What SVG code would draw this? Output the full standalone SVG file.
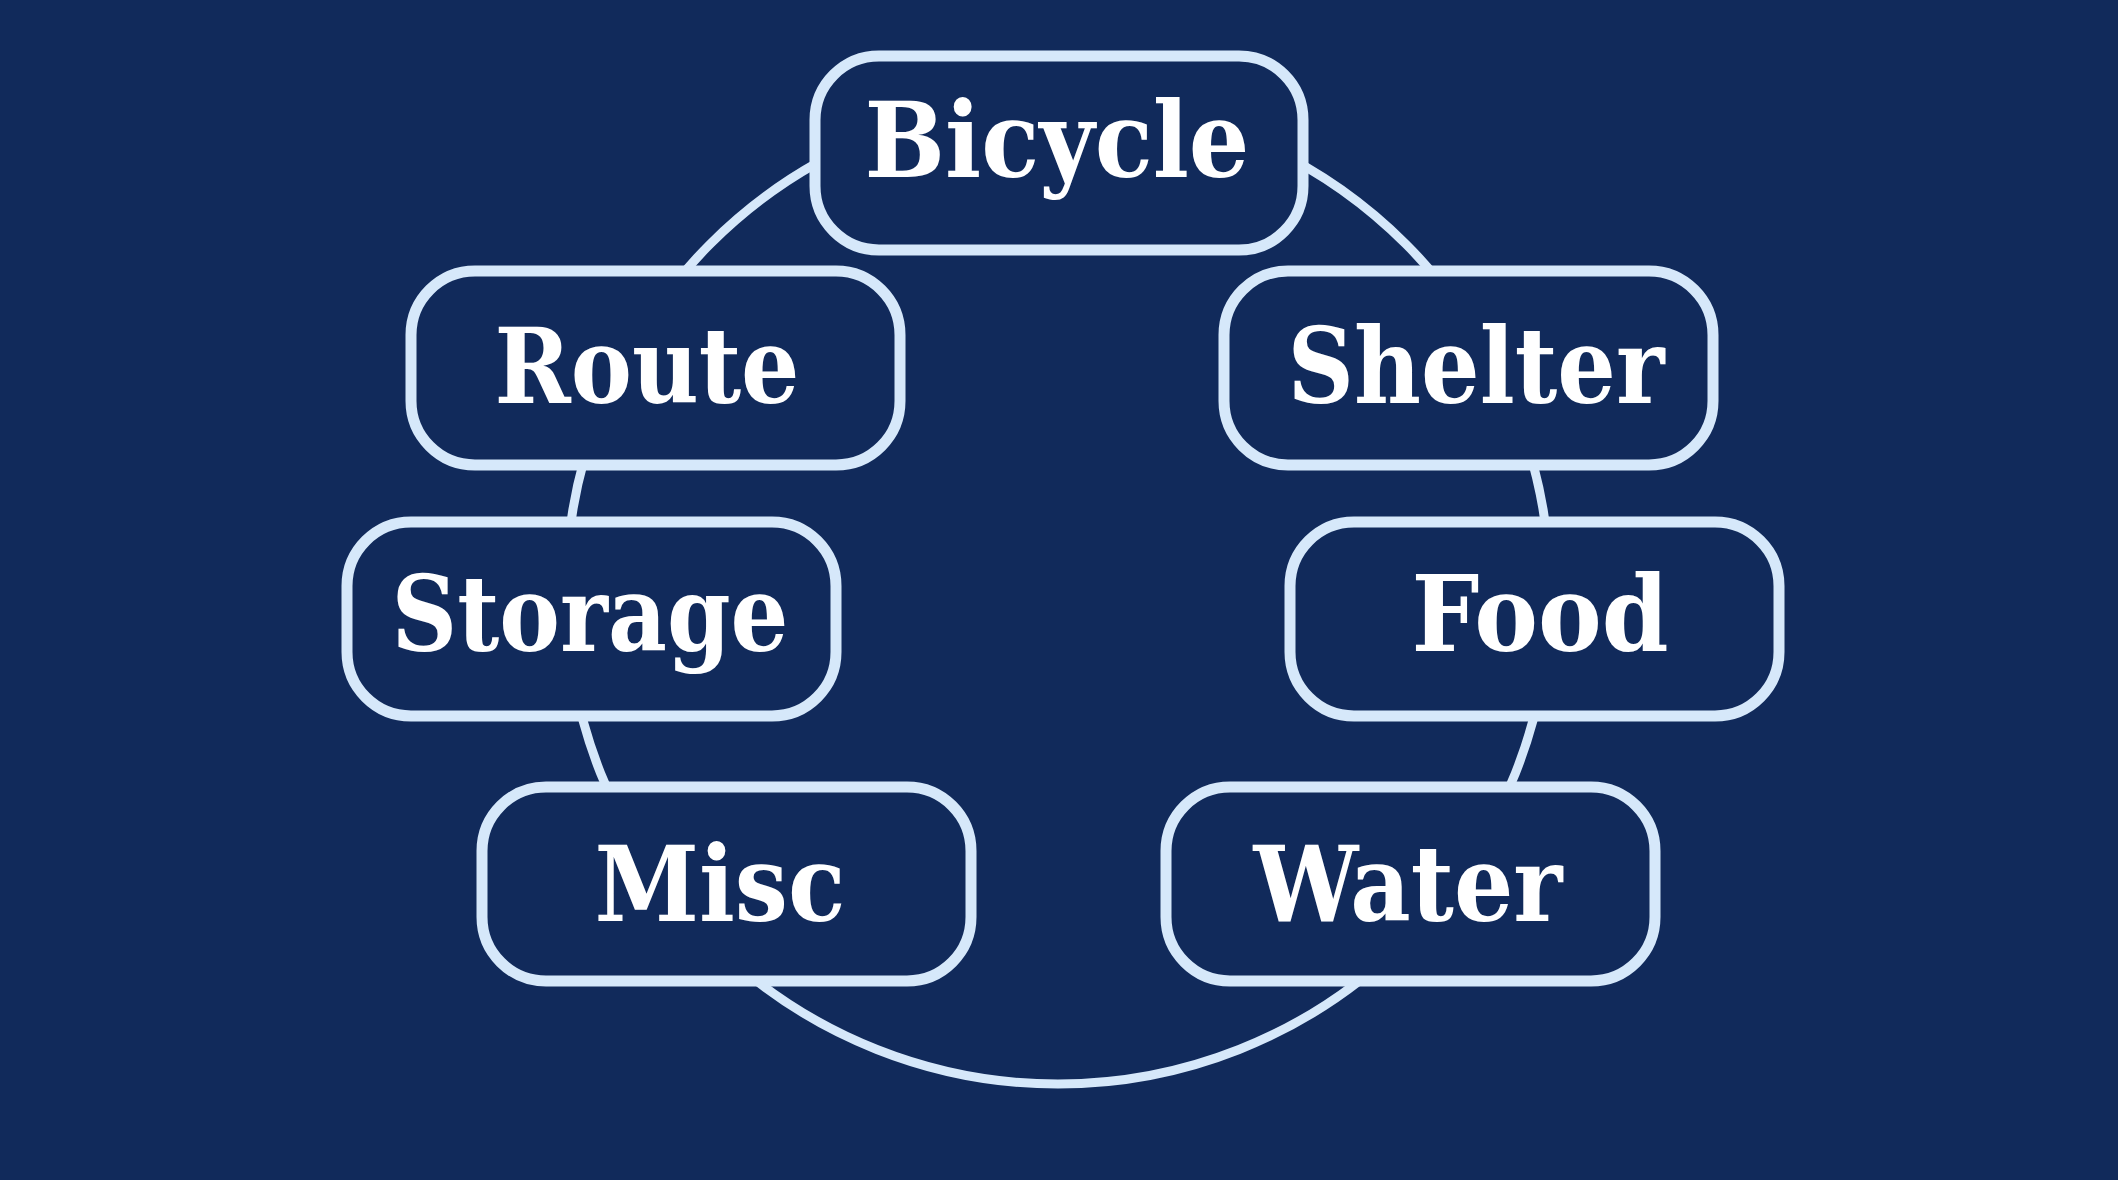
<svg xmlns="http://www.w3.org/2000/svg" width="2118" height="1180" viewBox="0 0 2118 1180">
<style>
.n{fill:#112a5b;stroke:#d6e8fa;stroke-width:11}
.t{font-family:"DejaVu Serif","Liberation Serif",serif;font-weight:bold;font-size:104px;fill:#ffffff;text-anchor:middle}
</style>
<rect width="2118" height="1180" fill="#112a5b"/>
<g id="connectors"><circle cx="1058" cy="592" r="492" fill="none" stroke="#d6e8fa" stroke-width="9"/></g>
<g id="bicycle"><rect class="n" x="815" y="56" width="488" height="194" rx="64"/><text class="t" x="1057" y="177" textLength="385" lengthAdjust="spacingAndGlyphs">Bicycle</text></g>
<g id="route"><rect class="n" x="411" y="271" width="489" height="194" rx="64"/><text class="t" x="647" y="403" textLength="305" lengthAdjust="spacingAndGlyphs">Route</text></g>
<g id="shelter"><rect class="n" x="1224" y="271" width="489" height="194" rx="64"/><text class="t" x="1476" y="403" textLength="377" lengthAdjust="spacingAndGlyphs">Shelter</text></g>
<g id="storage"><rect class="n" x="347" y="522" width="489" height="194" rx="64"/><text class="t" x="590" y="651" textLength="397" lengthAdjust="spacingAndGlyphs">Storage</text></g>
<g id="food"><rect class="n" x="1290" y="522" width="489" height="194" rx="64"/><text class="t" x="1540" y="651" textLength="257" lengthAdjust="spacingAndGlyphs">Food</text></g>
<g id="misc"><rect class="n" x="482" y="787" width="489" height="194" rx="64"/><text class="t" x="720" y="921" textLength="251" lengthAdjust="spacingAndGlyphs">Misc</text></g>
<g id="water"><rect class="n" x="1166" y="787" width="489" height="194" rx="64"/><text class="t" x="1408" y="921" textLength="309" lengthAdjust="spacingAndGlyphs">Water</text></g>
</svg>
